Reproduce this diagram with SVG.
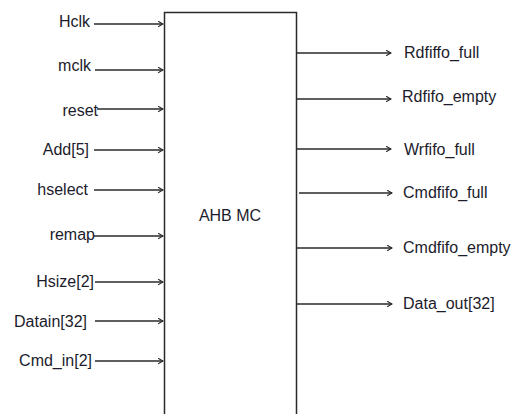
<svg xmlns="http://www.w3.org/2000/svg" width="514" height="414" viewBox="0 0 514 414">
<defs>
<style>
.lbl{font-family:"Liberation Sans",Arial,sans-serif;font-size:16px;fill:#1c1c2c}
.l{text-anchor:end}
.w{stroke:#2a2a2a;stroke-width:1.5;fill:none}
</style>
<marker id="ah" viewBox="0 0 10 10" refX="9" refY="5" markerWidth="7" markerHeight="7" markerUnits="userSpaceOnUse" orient="auto">
<path d="M2,1 L9,5 L2,9" fill="none" stroke="#2a2a2a" stroke-width="1.6"/>
</marker>
</defs>
<rect width="514" height="414" fill="#fff"/>
<g id="ahb_mc">
<path class="w" d="M164.5,420 V12.5 H296.5 V420"/>
<text class="lbl" x="230" y="221" text-anchor="middle">AHB MC</text>
</g>
<g id="connectors">
<line class="w" x1="94" y1="24" x2="163" y2="24" marker-end="url(#ah)"/>
<line class="w" x1="95" y1="70" x2="163" y2="70" marker-end="url(#ah)"/>
<line class="w" x1="97" y1="109" x2="163" y2="109" marker-end="url(#ah)"/>
<line class="w" x1="94" y1="150" x2="163" y2="150" marker-end="url(#ah)"/>
<line class="w" x1="94" y1="190" x2="163" y2="190" marker-end="url(#ah)"/>
<line class="w" x1="94" y1="236" x2="163" y2="236" marker-end="url(#ah)"/>
<line class="w" x1="95" y1="282" x2="163" y2="282" marker-end="url(#ah)"/>
<line class="w" x1="95" y1="321" x2="163" y2="321" marker-end="url(#ah)"/>
<line class="w" x1="95" y1="361" x2="163" y2="361" marker-end="url(#ah)"/>
<line class="w" x1="297" y1="53" x2="391" y2="53" marker-end="url(#ah)"/>
<line class="w" x1="297" y1="99" x2="391" y2="99" marker-end="url(#ah)"/>
<line class="w" x1="297" y1="149" x2="391" y2="149" marker-end="url(#ah)"/>
<line class="w" x1="299" y1="193" x2="392" y2="193" marker-end="url(#ah)"/>
<line class="w" x1="297" y1="248" x2="392" y2="248" marker-end="url(#ah)"/>
<line class="w" x1="297" y1="304" x2="392" y2="304" marker-end="url(#ah)"/>
</g>
<g id="in_hclk"><text class="lbl l" x="90" y="27">Hclk</text></g>
<g id="in_mclk"><text class="lbl l" x="91" y="71">mclk</text></g>
<g id="in_reset"><text class="lbl l" x="98" y="116">reset</text></g>
<g id="in_add"><text class="lbl l" x="89" y="155">Add[5]</text></g>
<g id="in_hselect"><text class="lbl l" x="88" y="195">hselect</text></g>
<g id="in_remap"><text class="lbl l" x="95" y="240">remap</text></g>
<g id="in_hsize"><text class="lbl l" x="94" y="287">Hsize[2]</text></g>
<g id="in_datain"><text class="lbl l" x="87" y="327">Datain[32]</text></g>
<g id="in_cmd"><text class="lbl l" x="92" y="366">Cmd_in[2]</text></g>
<g id="out_rdfiffo_full"><text class="lbl" x="404" y="58">Rdfiffo_full</text></g>
<g id="out_rdfifo_empty"><text class="lbl" x="402" y="102">Rdfifo_empty</text></g>
<g id="out_wrfifo_full"><text class="lbl" x="404" y="155">Wrfifo_full</text></g>
<g id="out_cmdfifo_full"><text class="lbl" x="403" y="198">Cmdfifo_full</text></g>
<g id="out_cmdfifo_empty"><text class="lbl" x="403" y="253">Cmdfifo_empty</text></g>
<g id="out_data_out"><text class="lbl" x="403" y="309">Data_out[32]</text></g>
</svg>
